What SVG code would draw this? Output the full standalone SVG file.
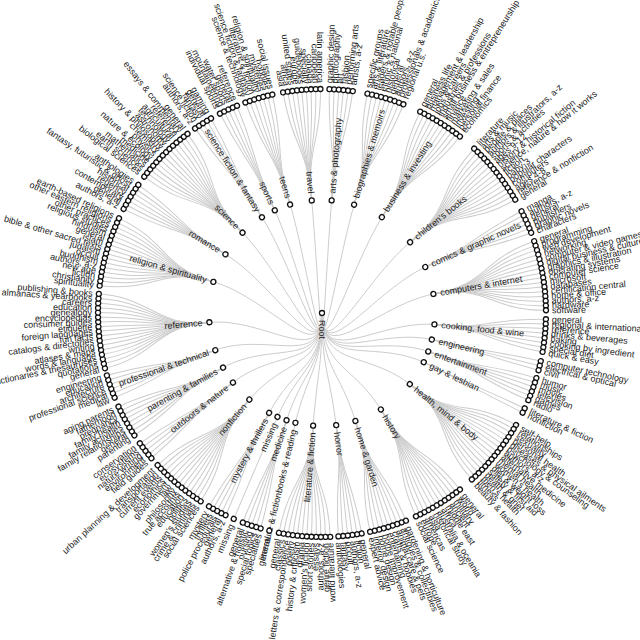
<svg xmlns="http://www.w3.org/2000/svg" xmlns:xlink="http://www.w3.org/1999/xlink" width="640" height="640" viewBox="0 0 640 640">
<style>
text{font-family:"Liberation Sans",Arial,sans-serif;font-size:9px;fill:#222;stroke:none;dominant-baseline:central}
.f{text-anchor:end}
circle{fill:#fff;stroke:#111;stroke-width:1.3}
</style>
<defs>
<path id="q0" d="M113,0C168.5,0 168.5,0 224,0"/>
<path id="p1" d="M113,0C168.5,0 168.49,1.76 223.99,2.35"/><path id="n1" d="M113,0C168.5,0 168.49,-1.76 223.99,-2.35"/>
<path id="p2" d="M113,0C168.5,0 168.46,3.53 223.95,4.69"/><path id="n2" d="M113,0C168.5,0 168.46,-3.53 223.95,-4.69"/>
<path id="p3" d="M113,0C168.5,0 168.42,5.29 223.89,7.04"/><path id="n3" d="M113,0C168.5,0 168.42,-5.29 223.89,-7.04"/>
<path id="p4" d="M113,0C168.5,0 168.35,7.06 223.8,9.38"/><path id="n4" d="M113,0C168.5,0 168.35,-7.06 223.8,-9.38"/>
<path id="p5" d="M113,0C168.5,0 168.27,8.82 223.69,11.72"/><path id="n5" d="M113,0C168.5,0 168.27,-8.82 223.69,-11.72"/>
<path id="p6" d="M113,0C168.5,0 168.17,10.58 223.56,14.07"/><path id="n6" d="M113,0C168.5,0 168.17,-10.58 223.56,-14.07"/>
<path id="p7" d="M113,0C168.5,0 168.05,12.34 223.4,16.41"/><path id="n7" d="M113,0C168.5,0 168.05,-12.34 223.4,-16.41"/>
<path id="p8" d="M113,0C168.5,0 167.91,14.1 223.21,18.74"/><path id="n8" d="M113,0C168.5,0 167.91,-14.1 223.21,-18.74"/>
<path id="p9" d="M113,0C168.5,0 167.75,15.86 223.01,21.08"/><path id="n9" d="M113,0C168.5,0 167.75,-15.86 223.01,-21.08"/>
<path id="p10" d="M113,0C168.5,0 167.58,17.61 222.77,23.41"/><path id="n10" d="M113,0C168.5,0 167.58,-17.61 222.77,-23.41"/>
<path id="p11" d="M113,0C168.5,0 167.38,19.37 222.52,25.75"/><path id="n11" d="M113,0C168.5,0 167.38,-19.37 222.52,-25.75"/>
<path id="p12" d="M113,0C168.5,0 167.17,21.12 222.23,28.07"/><path id="n12" d="M113,0C168.5,0 167.17,-21.12 222.23,-28.07"/>
<path id="p13" d="M113,0C168.5,0 166.94,22.87 221.93,30.4"/><path id="n13" d="M113,0C168.5,0 166.94,-22.87 221.93,-30.4"/>
<path id="p14" d="M113,0C168.5,0 166.69,24.61 221.6,32.72"/><path id="n14" d="M113,0C168.5,0 166.69,-24.61 221.6,-32.72"/>
<path id="p15" d="M113,0C168.5,0 166.43,26.36 221.24,35.04"/><path id="n15" d="M113,0C168.5,0 166.43,-26.36 221.24,-35.04"/>
<path id="p16" d="M113,0C168.5,0 166.14,28.1 220.86,37.36"/><path id="n16" d="M113,0C168.5,0 166.14,-28.1 220.86,-37.36"/>
</defs>
<rect width="640" height="640" fill="#fff"/>
<g transform="translate(322,313)">
<g id="connectors" fill="none" stroke="#ccc" stroke-width="1">
<path d="M0,0C0,56.5 -5.15,-56.35 -10.3,-112.7"/>
<path d="M0,0C0,56.5 4.85,-56.35 9.7,-112.7"/>
<path d="M0,0C0,56.5 16.15,-54.35 32.3,-108.7"/>
<path d="M0,0C0,56.5 30.15,-48.15 60.3,-96.3"/>
<path d="M0,0C0,56.5 44.65,-35.85 89.3,-71.7"/>
<path d="M0,0C0,56.5 52.5,-23.35 105,-46.7"/>
<path d="M0,0C0,56.5 56.65,-9.65 113.3,-19.3"/>
<path d="M0,0C0,56.5 57.35,5.85 114.7,11.7"/>
<path d="M0,0C0,56.5 56,13.5 112,27"/>
<path d="M0,0C0,56.5 54.35,19.65 108.7,39.3"/>
<path d="M0,0C0,56.5 52,25.15 104,50.3"/>
<path d="M0,0C0,56.5 44.85,36.35 89.7,72.7"/>
<path d="M0,0C0,56.5 30.15,49.35 60.3,98.7"/>
<path d="M0,0C0,56.5 17,54.85 34,109.7"/>
<path d="M0,0C0,56.5 7.15,56.85 14.3,113.7"/>
<path d="M0,0C0,56.5 -4.5,57 -9,114"/>
<path d="M0,0C0,56.5 -13.5,55.65 -27,111.3"/>
<path d="M0,0C0,56.5 -18,54.35 -36,108.7"/>
<path d="M0,0C0,56.5 -22.5,52.5 -45,105"/>
<path d="M0,0C0,56.5 -26.65,50.35 -53.3,100.7"/>
<path d="M0,0C0,56.5 -36.5,43.5 -73,87"/>
<path d="M0,0C0,56.5 -44.65,34.85 -89.3,69.7"/>
<path d="M0,0C0,56.5 -49.5,27.35 -99,54.7"/>
<path d="M0,0C0,56.5 -53.15,18.5 -106.3,37"/>
<path d="M0,0C0,56.5 -56.15,4.65 -112.3,9.3"/>
<path d="M0,0C0,56.5 -54,-15.5 -108,-31"/>
<path d="M0,0C0,56.5 -48,-29.15 -96,-58.3"/>
<path d="M0,0C0,56.5 -39.5,-39.85 -79,-79.7"/>
<path d="M0,0C0,56.5 -29.85,-47.65 -59.7,-95.3"/>
<path d="M0,0C0,56.5 -23.5,-51.15 -47,-102.3"/>
<path d="M0,0C0,56.5 -15.85,-54 -31.7,-108"/>
<g transform="rotate(-95.2)"><use href="#n8"/><use href="#n6"/><use href="#n4"/><use href="#n2"/><use href="#q0"/><use href="#p2"/><use href="#p4"/><use href="#p6"/><use href="#p8"/></g>
<g transform="rotate(-85.1)"><use href="#n5"/><use href="#n3"/><use href="#n1"/><use href="#p1"/><use href="#p3"/><use href="#p5"/></g>
<g transform="rotate(-73.5)"><use href="#n8"/><use href="#n6"/><use href="#n4"/><use href="#n2"/><use href="#q0"/><use href="#p2"/><use href="#p4"/><use href="#p6"/><use href="#p8"/></g>
<g transform="rotate(-58)"><use href="#n10"/><use href="#n8"/><use href="#n6"/><use href="#n4"/><use href="#n2"/><use href="#q0"/><use href="#p2"/><use href="#p4"/><use href="#p6"/><use href="#p8"/><use href="#p10"/></g>
<g transform="rotate(-38.8)"><use href="#n14"/><use href="#n12"/><use href="#n10"/><use href="#n8"/><use href="#n6"/><use href="#n4"/><use href="#n2"/><use href="#q0"/><use href="#p2"/><use href="#p4"/><use href="#p6"/><use href="#p8"/><use href="#p10"/><use href="#p12"/><use href="#p14"/></g>
<g transform="rotate(-24)"><use href="#n5"/><use href="#n3"/><use href="#n1"/><use href="#p1"/><use href="#p3"/><use href="#p5"/></g>
<g transform="rotate(-9.7)"><use href="#n15"/><use href="#n13"/><use href="#n11"/><use href="#n9"/><use href="#n7"/><use href="#n5"/><use href="#n3"/><use href="#n1"/><use href="#p1"/><use href="#p3"/><use href="#p5"/><use href="#p7"/><use href="#p9"/><use href="#p11"/><use href="#p13"/><use href="#p15"/></g>
<g transform="rotate(5.8)"><use href="#n7"/><use href="#n5"/><use href="#n3"/><use href="#n1"/><use href="#p1"/><use href="#p3"/><use href="#p5"/><use href="#p7"/></g>
<g transform="rotate(13.6)"><use href="#n2"/><use href="#q0"/><use href="#p2"/></g>
<g transform="rotate(19.9)"><use href="#n5"/><use href="#n3"/><use href="#n1"/><use href="#p1"/><use href="#p3"/><use href="#p5"/></g>
<g transform="rotate(25.8)"><use href="#n1"/><use href="#p1"/></g>
<g transform="rotate(39)"><use href="#n15"/><use href="#n13"/><use href="#n11"/><use href="#n9"/><use href="#n7"/><use href="#n5"/><use href="#n3"/><use href="#n1"/><use href="#p1"/><use href="#p3"/><use href="#p5"/><use href="#p7"/><use href="#p9"/><use href="#p11"/><use href="#p13"/><use href="#p15"/></g>
<g transform="rotate(58.6)"><use href="#n11"/><use href="#n9"/><use href="#n7"/><use href="#n5"/><use href="#n3"/><use href="#n1"/><use href="#p1"/><use href="#p3"/><use href="#p5"/><use href="#p7"/><use href="#p9"/><use href="#p11"/></g>
<g transform="rotate(72.8)"><use href="#n8"/><use href="#n6"/><use href="#n4"/><use href="#n2"/><use href="#q0"/><use href="#p2"/><use href="#p4"/><use href="#p6"/><use href="#p8"/></g>
<g transform="rotate(82.8)"><use href="#n5"/><use href="#n3"/><use href="#n1"/><use href="#p1"/><use href="#p3"/><use href="#p5"/></g>
<g transform="rotate(94.5)"><use href="#n11"/><use href="#n9"/><use href="#n7"/><use href="#n5"/><use href="#n3"/><use href="#n1"/><use href="#p1"/><use href="#p3"/><use href="#p5"/><use href="#p7"/><use href="#p9"/><use href="#p11"/></g>
<g transform="rotate(103.6)"><use href="#q0"/></g>
<g transform="rotate(108.3)"><use href="#n4"/><use href="#n2"/><use href="#q0"/><use href="#p2"/><use href="#p4"/></g>
<g transform="rotate(113.2)"><use href="#q0"/></g>
<g transform="rotate(117.9)"><use href="#n4"/><use href="#n2"/><use href="#q0"/><use href="#p2"/><use href="#p4"/></g>
<g transform="rotate(130)"><use href="#n12"/><use href="#n10"/><use href="#n8"/><use href="#n6"/><use href="#n4"/><use href="#n2"/><use href="#q0"/><use href="#p2"/><use href="#p4"/><use href="#p6"/><use href="#p8"/><use href="#p10"/><use href="#p12"/></g>
<g transform="rotate(142)"><use href="#n4"/><use href="#n2"/><use href="#q0"/><use href="#p2"/><use href="#p4"/></g>
<g transform="rotate(151.1)"><use href="#n7"/><use href="#n5"/><use href="#n3"/><use href="#n1"/><use href="#p1"/><use href="#p3"/><use href="#p5"/><use href="#p7"/></g>
<g transform="rotate(160.8)"><use href="#n5"/><use href="#n3"/><use href="#n1"/><use href="#p1"/><use href="#p3"/><use href="#p5"/></g>
<g transform="rotate(175.3)"><use href="#n16"/><use href="#n14"/><use href="#n12"/><use href="#n10"/><use href="#n8"/><use href="#n6"/><use href="#n4"/><use href="#n2"/><use href="#q0"/><use href="#p2"/><use href="#p4"/><use href="#p6"/><use href="#p8"/><use href="#p10"/><use href="#p12"/><use href="#p14"/><use href="#p16"/></g>
<g transform="rotate(196)"><use href="#n15"/><use href="#n13"/><use href="#n11"/><use href="#n9"/><use href="#n7"/><use href="#n5"/><use href="#n3"/><use href="#n1"/><use href="#p1"/><use href="#p3"/><use href="#p5"/><use href="#p7"/><use href="#p9"/><use href="#p11"/><use href="#p13"/><use href="#p15"/></g>
<g transform="rotate(211.3)"><use href="#n6"/><use href="#n4"/><use href="#n2"/><use href="#q0"/><use href="#p2"/><use href="#p4"/><use href="#p6"/></g>
<g transform="rotate(225.3)"><use href="#n13"/><use href="#n11"/><use href="#n9"/><use href="#n7"/><use href="#n5"/><use href="#n3"/><use href="#n1"/><use href="#p1"/><use href="#p3"/><use href="#p5"/><use href="#p7"/><use href="#p9"/><use href="#p11"/><use href="#p13"/></g>
<g transform="rotate(237.9)"><use href="#n4"/><use href="#n2"/><use href="#q0"/><use href="#p2"/><use href="#p4"/></g>
<g transform="rotate(245.3)"><use href="#n4"/><use href="#n2"/><use href="#q0"/><use href="#p2"/><use href="#p4"/></g>
<g transform="rotate(253.6)"><use href="#n6"/><use href="#n4"/><use href="#n2"/><use href="#q0"/><use href="#p2"/><use href="#p4"/><use href="#p6"/></g>
</g>
<g id="nodes">
<g id="root"><circle r="2.5"/><text x="7" transform="rotate(90)">Root</text></g>

<g id="travel" transform="rotate(-95.2)"><circle cx="113" r="2.5"/><text class="f" x="-120" transform="rotate(180)">travel</text>
<g transform="rotate(-4.8)"><circle cx="224" r="2.5"/><text class="f" x="-230" transform="rotate(180)">asia</text></g>
<g transform="rotate(-3.6)"><circle cx="224" r="2.5"/><text class="f" x="-230" transform="rotate(180)">africa</text></g>
<g transform="rotate(-2.4)"><circle cx="224" r="2.5"/><text class="f" x="-230" transform="rotate(180)">united states</text></g>
<g transform="rotate(-1.2)"><circle cx="224" r="2.5"/><text class="f" x="-230" transform="rotate(180)">europe</text></g>
<g><circle cx="224" r="2.5"/><text class="f" x="-230" transform="rotate(180)">guidebooks</text></g>
<g transform="rotate(1.2)"><circle cx="224" r="2.5"/><text class="f" x="-230" transform="rotate(180)">specialty</text></g>
<g transform="rotate(2.4)"><circle cx="224" r="2.5"/><text class="f" x="-230" transform="rotate(180)">canada</text></g>
<g transform="rotate(3.6)"><circle cx="224" r="2.5"/><text class="f" x="-230" transform="rotate(180)">caribbean</text></g>
<g transform="rotate(4.8)"><circle cx="224" r="2.5"/><text class="f" x="-230" transform="rotate(180)">latin america</text></g>
</g>

<g id="arts" transform="rotate(-85.1)"><circle cx="113" r="2.5"/><text x="120">arts &amp; photography</text>
<g transform="rotate(-3)"><circle cx="224" r="2.5"/><text x="230">graphic design</text></g>
<g transform="rotate(-1.8)"><circle cx="224" r="2.5"/><text x="230">photography</text></g>
<g transform="rotate(-0.6)"><circle cx="224" r="2.5"/><text x="230">art</text></g>
<g transform="rotate(0.6)"><circle cx="224" r="2.5"/><text x="230">fashion</text></g>
<g transform="rotate(1.8)"><circle cx="224" r="2.5"/><text x="230">performing arts</text></g>
<g transform="rotate(3)"><circle cx="224" r="2.5"/><text x="230">artists, a-z</text></g>
</g>

<g id="biographies" transform="rotate(-73.5)"><circle cx="113" r="2.5"/><text x="120">biographies &amp; memoirs</text>
<g transform="rotate(-4.8)"><circle cx="224" r="2.5"/><text x="230">specific groups</text></g>
<g transform="rotate(-3.6)"><circle cx="224" r="2.5"/><text x="230">arts &amp; literature</text></g>
<g transform="rotate(-2.4)"><circle cx="224" r="2.5"/><text x="230">leaders &amp; notable people</text></g>
<g transform="rotate(-1.2)"><circle cx="224" r="2.5"/><text x="230">ethnic &amp; national</text></g>
<g><circle cx="224" r="2.5"/><text x="230">historical</text></g>
<g transform="rotate(1.2)"><circle cx="224" r="2.5"/><text x="230">general</text></g>
<g transform="rotate(2.4)"><circle cx="224" r="2.5"/><text x="230">authors, a-z</text></g>
<g transform="rotate(3.6)"><circle cx="224" r="2.5"/><text x="230">professionals &amp; academics</text></g>
<g transform="rotate(4.8)"><circle cx="224" r="2.5"/><text x="230">regional u.s.</text></g>
</g>

<g id="business" transform="rotate(-58)"><circle cx="113" r="2.5"/><text x="120">business &amp; investing</text>
<g transform="rotate(-6)"><circle cx="224" r="2.5"/><text x="230">general</text></g>
<g transform="rotate(-4.8)"><circle cx="224" r="2.5"/><text x="230">business life</text></g>
<g transform="rotate(-3.6)"><circle cx="224" r="2.5"/><text x="230">management &amp; leadership</text></g>
<g transform="rotate(-2.4)"><circle cx="224" r="2.5"/><text x="230">jobs &amp; careers</text></g>
<g transform="rotate(-1.2)"><circle cx="224" r="2.5"/><text x="230">industries &amp; professions</text></g>
<g><circle cx="224" r="2.5"/><text x="230">small business &amp; entrepreneurship</text></g>
<g transform="rotate(1.2)"><circle cx="224" r="2.5"/><text x="230">finance</text></g>
<g transform="rotate(2.4)"><circle cx="224" r="2.5"/><text x="230">marketing &amp; sales</text></g>
<g transform="rotate(3.6)"><circle cx="224" r="2.5"/><text x="230">investing</text></g>
<g transform="rotate(4.8)"><circle cx="224" r="2.5"/><text x="230">personal finance</text></g>
<g transform="rotate(6)"><circle cx="224" r="2.5"/><text x="230">economics</text></g>
</g>

<g id="childrens" transform="rotate(-38.8)"><circle cx="113" r="2.5"/><text x="120">children's books</text>
<g transform="rotate(-8.4)"><circle cx="224" r="2.5"/><text x="230">literature</text></g>
<g transform="rotate(-7.2)"><circle cx="224" r="2.5"/><text x="230">arts &amp; music</text></g>
<g transform="rotate(-6)"><circle cx="224" r="2.5"/><text x="230">people &amp; places</text></g>
<g transform="rotate(-4.8)"><circle cx="224" r="2.5"/><text x="230">authors &amp; illustrators, a-z</text></g>
<g transform="rotate(-3.6)"><circle cx="224" r="2.5"/><text x="230">sports &amp; activities</text></g>
<g transform="rotate(-2.4)"><circle cx="224" r="2.5"/><text x="230">ages 9-12</text></g>
<g transform="rotate(-1.2)"><circle cx="224" r="2.5"/><text x="230">history &amp; historical fiction</text></g>
<g><circle cx="224" r="2.5"/><text x="230">science, nature &amp; how it works</text></g>
<g transform="rotate(1.2)"><circle cx="224" r="2.5"/><text x="230">fiction</text></g>
<g transform="rotate(2.4)"><circle cx="224" r="2.5"/><text x="230">baby-3</text></g>
<g transform="rotate(3.6)"><circle cx="224" r="2.5"/><text x="230">popular characters</text></g>
<g transform="rotate(4.8)"><circle cx="224" r="2.5"/><text x="230">computers</text></g>
<g transform="rotate(6)"><circle cx="224" r="2.5"/><text x="230">ages 4-8</text></g>
<g transform="rotate(7.2)"><circle cx="224" r="2.5"/><text x="230">reference &amp; nonfiction</text></g>
<g transform="rotate(8.4)"><circle cx="224" r="2.5"/><text x="230">general</text></g>
</g>

<g id="comics" transform="rotate(-24)"><circle cx="113" r="2.5"/><text x="120">comics &amp; graphic novels</text>
<g transform="rotate(-3)"><circle cx="224" r="2.5"/><text x="230">manga</text></g>
<g transform="rotate(-1.8)"><circle cx="224" r="2.5"/><text x="230">authors, a-z</text></g>
<g transform="rotate(-0.6)"><circle cx="224" r="2.5"/><text x="230">general</text></g>
<g transform="rotate(0.6)"><circle cx="224" r="2.5"/><text x="230">publishers</text></g>
<g transform="rotate(1.8)"><circle cx="224" r="2.5"/><text x="230">graphic novels</text></g>
<g transform="rotate(3)"><circle cx="224" r="2.5"/><text x="230">characters</text></g>
</g>

<g id="computers" transform="rotate(-9.7)"><circle cx="113" r="2.5"/><text x="120">computers &amp; internet</text>
<g transform="rotate(-9)"><circle cx="224" r="2.5"/><text x="230">general</text></g>
<g transform="rotate(-7.8)"><circle cx="224" r="2.5"/><text x="230">programming</text></g>
<g transform="rotate(-6.6)"><circle cx="224" r="2.5"/><text x="230">web development</text></g>
<g transform="rotate(-5.4)"><circle cx="224" r="2.5"/><text x="230">networking</text></g>
<g transform="rotate(-4.2)"><circle cx="224" r="2.5"/><text x="230">computer &amp; video games</text></g>
<g transform="rotate(-3)"><circle cx="224" r="2.5"/><text x="230">digital business &amp; culture</text></g>
<g transform="rotate(-1.8)"><circle cx="224" r="2.5"/><text x="230">graphics &amp; illustration</text></g>
<g transform="rotate(-0.6)"><circle cx="224" r="2.5"/><text x="230">operating systems</text></g>
<g transform="rotate(0.6)"><circle cx="224" r="2.5"/><text x="230">computer science</text></g>
<g transform="rotate(1.8)"><circle cx="224" r="2.5"/><text x="230">microsoft</text></g>
<g transform="rotate(3)"><circle cx="224" r="2.5"/><text x="230">databases</text></g>
<g transform="rotate(4.2)"><circle cx="224" r="2.5"/><text x="230">certification central</text></g>
<g transform="rotate(5.4)"><circle cx="224" r="2.5"/><text x="230">home &amp; office</text></g>
<g transform="rotate(6.6)"><circle cx="224" r="2.5"/><text x="230">authors, a-z</text></g>
<g transform="rotate(7.8)"><circle cx="224" r="2.5"/><text x="230">hardware</text></g>
<g transform="rotate(9)"><circle cx="224" r="2.5"/><text x="230">software</text></g>
</g>

<g id="cooking" transform="rotate(5.8)"><circle cx="113" r="2.5"/><text x="120">cooking, food &amp; wine</text>
<g transform="rotate(-4.2)"><circle cx="224" r="2.5"/><text x="230">general</text></g>
<g transform="rotate(-3)"><circle cx="224" r="2.5"/><text x="230">regional &amp; international</text></g>
<g transform="rotate(-1.8)"><circle cx="224" r="2.5"/><text x="230">reference</text></g>
<g transform="rotate(-0.6)"><circle cx="224" r="2.5"/><text x="230">drinks &amp; beverages</text></g>
<g transform="rotate(0.6)"><circle cx="224" r="2.5"/><text x="230">baking</text></g>
<g transform="rotate(1.8)"><circle cx="224" r="2.5"/><text x="230">cooking by ingredient</text></g>
<g transform="rotate(3)"><circle cx="224" r="2.5"/><text x="230">special diet</text></g>
<g transform="rotate(4.2)"><circle cx="224" r="2.5"/><text x="230">quick &amp; easy</text></g>
</g>

<g id="engineering" transform="rotate(13.6)"><circle cx="113" r="2.5"/><text x="120">engineering</text>
<g transform="rotate(-1.2)"><circle cx="224" r="2.5"/><text x="230">computer technology</text></g>
<g><circle cx="224" r="2.5"/><text x="230">electrical &amp; optical</text></g>
<g transform="rotate(1.2)"><circle cx="224" r="2.5"/><text x="230">civil</text></g>
</g>

<g id="entertainment" transform="rotate(19.9)"><circle cx="113" r="2.5"/><text x="120">entertainment</text>
<g transform="rotate(-3)"><circle cx="224" r="2.5"/><text x="230">humor</text></g>
<g transform="rotate(-1.8)"><circle cx="224" r="2.5"/><text x="230">music</text></g>
<g transform="rotate(-0.6)"><circle cx="224" r="2.5"/><text x="230">movies</text></g>
<g transform="rotate(0.6)"><circle cx="224" r="2.5"/><text x="230">television</text></g>
<g transform="rotate(1.8)"><circle cx="224" r="2.5"/><text x="230">games</text></g>
<g transform="rotate(3)"><circle cx="224" r="2.5"/><text x="230">radio</text></g>
</g>

<g id="gay" transform="rotate(25.8)"><circle cx="113" r="2.5"/><text x="120">gay &amp; lesbian</text>
<g transform="rotate(-0.6)"><circle cx="224" r="2.5"/><text x="230">literature &amp; fiction</text></g>
<g transform="rotate(0.6)"><circle cx="224" r="2.5"/><text x="230">nonfiction</text></g>
</g>

<g id="health" transform="rotate(39)"><circle cx="113" r="2.5"/><text x="120">health, mind &amp; body</text>
<g transform="rotate(-9)"><circle cx="224" r="2.5"/><text x="230">self-help</text></g>
<g transform="rotate(-7.8)"><circle cx="224" r="2.5"/><text x="230">relationships</text></g>
<g transform="rotate(-6.6)"><circle cx="224" r="2.5"/><text x="230">sexuality</text></g>
<g transform="rotate(-5.4)"><circle cx="224" r="2.5"/><text x="230">personal health</text></g>
<g transform="rotate(-4.2)"><circle cx="224" r="2.5"/><text x="230">diseases &amp; physical ailments</text></g>
<g transform="rotate(-3)"><circle cx="224" r="2.5"/><text x="230">psychology &amp; counseling</text></g>
<g transform="rotate(-1.8)"><circle cx="224" r="2.5"/><text x="230">authors, a-z</text></g>
<g transform="rotate(-0.6)"><circle cx="224" r="2.5"/><text x="230">alternative medicine</text></g>
<g transform="rotate(0.6)"><circle cx="224" r="2.5"/><text x="230">mental health</text></g>
<g transform="rotate(1.8)"><circle cx="224" r="2.5"/><text x="230">women's health</text></g>
<g transform="rotate(3)"><circle cx="224" r="2.5"/><text x="230">diet &amp; weight loss</text></g>
<g transform="rotate(4.2)"><circle cx="224" r="2.5"/><text x="230">safety &amp; first aid</text></g>
<g transform="rotate(5.4)"><circle cx="224" r="2.5"/><text x="230">death &amp; grief</text></g>
<g transform="rotate(6.6)"><circle cx="224" r="2.5"/><text x="230">men's health</text></g>
<g transform="rotate(7.8)"><circle cx="224" r="2.5"/><text x="230">fitness</text></g>
<g transform="rotate(9)"><circle cx="224" r="2.5"/><text x="230">beauty &amp; fashion</text></g>
</g>

<g id="history" transform="rotate(58.6)"><circle cx="113" r="2.5"/><text x="120">history</text>
<g transform="rotate(-6.6)"><circle cx="224" r="2.5"/><text x="230">general</text></g>
<g transform="rotate(-5.4)"><circle cx="224" r="2.5"/><text x="230">world</text></g>
<g transform="rotate(-4.2)"><circle cx="224" r="2.5"/><text x="230">military</text></g>
<g transform="rotate(-3)"><circle cx="224" r="2.5"/><text x="230">ancient</text></g>
<g transform="rotate(-1.8)"><circle cx="224" r="2.5"/><text x="230">middle east</text></g>
<g transform="rotate(-0.6)"><circle cx="224" r="2.5"/><text x="230">africa</text></g>
<g transform="rotate(0.6)"><circle cx="224" r="2.5"/><text x="230">australia &amp; oceania</text></g>
<g transform="rotate(1.8)"><circle cx="224" r="2.5"/><text x="230">historical study</text></g>
<g transform="rotate(3)"><circle cx="224" r="2.5"/><text x="230">asia</text></g>
<g transform="rotate(4.2)"><circle cx="224" r="2.5"/><text x="230">americas</text></g>
<g transform="rotate(5.4)"><circle cx="224" r="2.5"/><text x="230">europe</text></g>
<g transform="rotate(6.6)"><circle cx="224" r="2.5"/><text x="230">social science</text></g>
</g>

<g id="home" transform="rotate(72.8)"><circle cx="113" r="2.5"/><text x="120">home &amp; garden</text>
<g transform="rotate(-4.8)"><circle cx="224" r="2.5"/><text x="230">gardening &amp; horticulture</text></g>
<g transform="rotate(-3.6)"><circle cx="224" r="2.5"/><text x="230">antiques &amp; collectibles</text></g>
<g transform="rotate(-2.4)"><circle cx="224" r="2.5"/><text x="230">animal care &amp; pets</text></g>
<g transform="rotate(-1.2)"><circle cx="224" r="2.5"/><text x="230">crafts &amp; hobbies</text></g>
<g><circle cx="224" r="2.5"/><text x="230">entertaining</text></g>
<g transform="rotate(1.2)"><circle cx="224" r="2.5"/><text x="230">home improvement</text></g>
<g transform="rotate(2.4)"><circle cx="224" r="2.5"/><text x="230">home design</text></g>
<g transform="rotate(3.6)"><circle cx="224" r="2.5"/><text x="230">interior design</text></g>
<g transform="rotate(4.8)"><circle cx="224" r="2.5"/><text x="230">expert advice</text></g>
</g>

<g id="horror" transform="rotate(82.8)"><circle cx="113" r="2.5"/><text x="120">horror</text>
<g transform="rotate(-3)"><circle cx="224" r="2.5"/><text x="230">general</text></g>
<g transform="rotate(-1.8)"><circle cx="224" r="2.5"/><text x="230">fiction</text></g>
<g transform="rotate(-0.6)"><circle cx="224" r="2.5"/><text x="230">authors, a-z</text></g>
<g transform="rotate(0.6)"><circle cx="224" r="2.5"/><text x="230">occult</text></g>
<g transform="rotate(1.8)"><circle cx="224" r="2.5"/><text x="230">fantasy</text></g>
<g transform="rotate(3)"><circle cx="224" r="2.5"/><text x="230">anthologies</text></g>
</g>

<g id="literature" transform="rotate(94.5)"><circle cx="113" r="2.5"/><text class="f" x="-120" transform="rotate(180)">literature &amp; fiction</text>
<g transform="rotate(-6.6)"><circle cx="224" r="2.5"/><text class="f" x="-230" transform="rotate(180)">world literature</text></g>
<g transform="rotate(-5.4)"><circle cx="224" r="2.5"/><text class="f" x="-230" transform="rotate(180)">genre fiction</text></g>
<g transform="rotate(-4.2)"><circle cx="224" r="2.5"/><text class="f" x="-230" transform="rotate(180)">authors, a-z</text></g>
<g transform="rotate(-3)"><circle cx="224" r="2.5"/><text class="f" x="-230" transform="rotate(180)">essays</text></g>
<g transform="rotate(-1.8)"><circle cx="224" r="2.5"/><text class="f" x="-230" transform="rotate(180)">short stories</text></g>
<g transform="rotate(-0.6)"><circle cx="224" r="2.5"/><text class="f" x="-230" transform="rotate(180)">women's fiction</text></g>
<g transform="rotate(0.6)"><circle cx="224" r="2.5"/><text class="f" x="-230" transform="rotate(180)">drama</text></g>
<g transform="rotate(1.8)"><circle cx="224" r="2.5"/><text class="f" x="-230" transform="rotate(180)">history &amp; criticism</text></g>
<g transform="rotate(3)"><circle cx="224" r="2.5"/><text class="f" x="-230" transform="rotate(180)">poetry</text></g>
<g transform="rotate(4.2)"><circle cx="224" r="2.5"/><text class="f" x="-230" transform="rotate(180)">letters &amp; correspondence</text></g>
<g transform="rotate(5.4)"><circle cx="224" r="2.5"/><text class="f" x="-230" transform="rotate(180)">classics</text></g>
<g transform="rotate(6.6)"><circle cx="224" r="2.5"/><text class="f" x="-230" transform="rotate(180)">general</text></g>
</g>

<g id="books" transform="rotate(103.6)"><circle cx="113" r="2.5"/><text class="f" x="-120" transform="rotate(180)">literature &amp; fictionbooks &amp; reading</text>
<g><circle cx="224" r="2.5"/><text class="f" x="-230" transform="rotate(180)">general</text></g>
</g>

<g id="medicine" transform="rotate(108.3)"><circle cx="113" r="2.5"/><text class="f" x="-120" transform="rotate(180)">medicine</text>
<g transform="rotate(-2.4)"><circle cx="224" r="2.5"/><text class="f" x="-230" transform="rotate(180)">specialties</text></g>
<g transform="rotate(-1.2)"><circle cx="224" r="2.5"/><text class="f" x="-230" transform="rotate(180)">special topics</text></g>
<g><circle cx="224" r="2.5"/><text class="f" x="-230" transform="rotate(180)">nursing</text></g>
<g transform="rotate(1.2)"><circle cx="224" r="2.5"/><text class="f" x="-230" transform="rotate(180)">alternative &amp; holistic</text></g>
<g transform="rotate(2.4)"><circle cx="224" r="2.5"/><text class="f" x="-230" transform="rotate(180)">general</text></g>
</g>

<g id="missing" transform="rotate(113.2)"><circle cx="113" r="2.5"/><text class="f" x="-120" transform="rotate(180)">missing</text>
<g><circle cx="224" r="2.5"/><text class="f" x="-230" transform="rotate(180)">missing</text></g>
</g>

<g id="mystery" transform="rotate(117.9)"><circle cx="113" r="2.5"/><text class="f" x="-120" transform="rotate(180)">mystery &amp; thrillers</text>
<g transform="rotate(-2.4)"><circle cx="224" r="2.5"/><text class="f" x="-230" transform="rotate(180)">authors, a-z</text></g>
<g transform="rotate(-1.2)"><circle cx="224" r="2.5"/><text class="f" x="-230" transform="rotate(180)">general</text></g>
<g><circle cx="224" r="2.5"/><text class="f" x="-230" transform="rotate(180)">police procedurals</text></g>
<g transform="rotate(1.2)"><circle cx="224" r="2.5"/><text class="f" x="-230" transform="rotate(180)">thrillers</text></g>
<g transform="rotate(2.4)"><circle cx="224" r="2.5"/><text class="f" x="-230" transform="rotate(180)">mystery</text></g>
</g>

<g id="nonfiction" transform="rotate(130)"><circle cx="113" r="2.5"/><text class="f" x="-120" transform="rotate(180)">nonfiction</text>
<g transform="rotate(-7.2)"><circle cx="224" r="2.5"/><text class="f" x="-230" transform="rotate(180)">social sciences</text></g>
<g transform="rotate(-6)"><circle cx="224" r="2.5"/><text class="f" x="-230" transform="rotate(180)">crime &amp; criminals</text></g>
<g transform="rotate(-4.8)"><circle cx="224" r="2.5"/><text class="f" x="-230" transform="rotate(180)">women's studies</text></g>
<g transform="rotate(-3.6)"><circle cx="224" r="2.5"/><text class="f" x="-230" transform="rotate(180)">politics</text></g>
<g transform="rotate(-2.4)"><circle cx="224" r="2.5"/><text class="f" x="-230" transform="rotate(180)">education</text></g>
<g transform="rotate(-1.2)"><circle cx="224" r="2.5"/><text class="f" x="-230" transform="rotate(180)">true accounts</text></g>
<g><circle cx="224" r="2.5"/><text class="f" x="-230" transform="rotate(180)">philosophy</text></g>
<g transform="rotate(1.2)"><circle cx="224" r="2.5"/><text class="f" x="-230" transform="rotate(180)">law</text></g>
<g transform="rotate(2.4)"><circle cx="224" r="2.5"/><text class="f" x="-230" transform="rotate(180)">government</text></g>
<g transform="rotate(3.6)"><circle cx="224" r="2.5"/><text class="f" x="-230" transform="rotate(180)">economics</text></g>
<g transform="rotate(4.8)"><circle cx="224" r="2.5"/><text class="f" x="-230" transform="rotate(180)">current events</text></g>
<g transform="rotate(6)"><circle cx="224" r="2.5"/><text class="f" x="-230" transform="rotate(180)">transportation</text></g>
<g transform="rotate(7.2)"><circle cx="224" r="2.5"/><text class="f" x="-230" transform="rotate(180)">urban planning &amp; development</text></g>
</g>

<g id="outdoors" transform="rotate(142)"><circle cx="113" r="2.5"/><text class="f" x="-120" transform="rotate(180)">outdoors &amp; nature</text>
<g transform="rotate(-2.4)"><circle cx="224" r="2.5"/><text class="f" x="-230" transform="rotate(180)">field guides</text></g>
<g transform="rotate(-1.2)"><circle cx="224" r="2.5"/><text class="f" x="-230" transform="rotate(180)">environment</text></g>
<g><circle cx="224" r="2.5"/><text class="f" x="-230" transform="rotate(180)">nature writing</text></g>
<g transform="rotate(1.2)"><circle cx="224" r="2.5"/><text class="f" x="-230" transform="rotate(180)">ecosystems</text></g>
<g transform="rotate(2.4)"><circle cx="224" r="2.5"/><text class="f" x="-230" transform="rotate(180)">conservation</text></g>
</g>

<g id="parenting" transform="rotate(151.1)"><circle cx="113" r="2.5"/><text class="f" x="-120" transform="rotate(180)">parenting &amp; families</text>
<g transform="rotate(-4.2)"><circle cx="224" r="2.5"/><text class="f" x="-230" transform="rotate(180)">parenting</text></g>
<g transform="rotate(-3)"><circle cx="224" r="2.5"/><text class="f" x="-230" transform="rotate(180)">general</text></g>
<g transform="rotate(-1.8)"><circle cx="224" r="2.5"/><text class="f" x="-230" transform="rotate(180)">family relationships</text></g>
<g transform="rotate(-0.6)"><circle cx="224" r="2.5"/><text class="f" x="-230" transform="rotate(180)">family activities</text></g>
<g transform="rotate(0.6)"><circle cx="224" r="2.5"/><text class="f" x="-230" transform="rotate(180)">family health</text></g>
<g transform="rotate(1.8)"><circle cx="224" r="2.5"/><text class="f" x="-230" transform="rotate(180)">pregnancy</text></g>
<g transform="rotate(3)"><circle cx="224" r="2.5"/><text class="f" x="-230" transform="rotate(180)">fatherhood</text></g>
<g transform="rotate(4.2)"><circle cx="224" r="2.5"/><text class="f" x="-230" transform="rotate(180)">aging parents</text></g>
</g>

<g id="professional" transform="rotate(160.8)"><circle cx="113" r="2.5"/><text class="f" x="-120" transform="rotate(180)">professional &amp; technical</text>
<g transform="rotate(-3)"><circle cx="224" r="2.5"/><text class="f" x="-230" transform="rotate(180)">law</text></g>
<g transform="rotate(-1.8)"><circle cx="224" r="2.5"/><text class="f" x="-230" transform="rotate(180)">medical</text></g>
<g transform="rotate(-0.6)"><circle cx="224" r="2.5"/><text class="f" x="-230" transform="rotate(180)">professional science</text></g>
<g transform="rotate(0.6)"><circle cx="224" r="2.5"/><text class="f" x="-230" transform="rotate(180)">architecture</text></g>
<g transform="rotate(1.8)"><circle cx="224" r="2.5"/><text class="f" x="-230" transform="rotate(180)">education</text></g>
<g transform="rotate(3)"><circle cx="224" r="2.5"/><text class="f" x="-230" transform="rotate(180)">engineering</text></g>
</g>

<g id="reference" transform="rotate(175.3)"><circle cx="113" r="2.5"/><text class="f" x="-120" transform="rotate(180)">reference</text>
<g transform="rotate(-9.6)"><circle cx="224" r="2.5"/><text class="f" x="-230" transform="rotate(180)">general</text></g>
<g transform="rotate(-8.4)"><circle cx="224" r="2.5"/><text class="f" x="-230" transform="rotate(180)">quotations</text></g>
<g transform="rotate(-7.2)"><circle cx="224" r="2.5"/><text class="f" x="-230" transform="rotate(180)">dictionaries &amp; thesauruses</text></g>
<g transform="rotate(-6)"><circle cx="224" r="2.5"/><text class="f" x="-230" transform="rotate(180)">words &amp; language</text></g>
<g transform="rotate(-4.8)"><circle cx="224" r="2.5"/><text class="f" x="-230" transform="rotate(180)">atlases &amp; maps</text></g>
<g transform="rotate(-3.6)"><circle cx="224" r="2.5"/><text class="f" x="-230" transform="rotate(180)">writing</text></g>
<g transform="rotate(-2.4)"><circle cx="224" r="2.5"/><text class="f" x="-230" transform="rotate(180)">catalogs &amp; directories</text></g>
<g transform="rotate(-1.2)"><circle cx="224" r="2.5"/><text class="f" x="-230" transform="rotate(180)">fun facts</text></g>
<g><circle cx="224" r="2.5"/><text class="f" x="-230" transform="rotate(180)">foreign languages</text></g>
<g transform="rotate(1.2)"><circle cx="224" r="2.5"/><text class="f" x="-230" transform="rotate(180)">etiquette</text></g>
<g transform="rotate(2.4)"><circle cx="224" r="2.5"/><text class="f" x="-230" transform="rotate(180)">consumer guides</text></g>
<g transform="rotate(3.6)"><circle cx="224" r="2.5"/><text class="f" x="-230" transform="rotate(180)">encyclopedias</text></g>
<g transform="rotate(4.8)"><circle cx="224" r="2.5"/><text class="f" x="-230" transform="rotate(180)">genealogy</text></g>
<g transform="rotate(6)"><circle cx="224" r="2.5"/><text class="f" x="-230" transform="rotate(180)">education</text></g>
<g transform="rotate(7.2)"><circle cx="224" r="2.5"/><text class="f" x="-230" transform="rotate(180)">careers</text></g>
<g transform="rotate(8.4)"><circle cx="224" r="2.5"/><text class="f" x="-230" transform="rotate(180)">almanacs &amp; yearbooks</text></g>
<g transform="rotate(9.6)"><circle cx="224" r="2.5"/><text class="f" x="-230" transform="rotate(180)">publishing &amp; books</text></g>
</g>

<g id="religion" transform="rotate(196)"><circle cx="113" r="2.5"/><text class="f" x="-120" transform="rotate(180)">religion &amp; spirituality</text>
<g transform="rotate(-9)"><circle cx="224" r="2.5"/><text class="f" x="-230" transform="rotate(180)">spirituality</text></g>
<g transform="rotate(-7.8)"><circle cx="224" r="2.5"/><text class="f" x="-230" transform="rotate(180)">christianity</text></g>
<g transform="rotate(-6.6)"><circle cx="224" r="2.5"/><text class="f" x="-230" transform="rotate(180)">fiction</text></g>
<g transform="rotate(-5.4)"><circle cx="224" r="2.5"/><text class="f" x="-230" transform="rotate(180)">new age</text></g>
<g transform="rotate(-4.2)"><circle cx="224" r="2.5"/><text class="f" x="-230" transform="rotate(180)">authors, a-z</text></g>
<g transform="rotate(-3)"><circle cx="224" r="2.5"/><text class="f" x="-230" transform="rotate(180)">buddhism</text></g>
<g transform="rotate(-1.8)"><circle cx="224" r="2.5"/><text class="f" x="-230" transform="rotate(180)">occult</text></g>
<g transform="rotate(-0.6)"><circle cx="224" r="2.5"/><text class="f" x="-230" transform="rotate(180)">judaism</text></g>
<g transform="rotate(0.6)"><circle cx="224" r="2.5"/><text class="f" x="-230" transform="rotate(180)">bible &amp; other sacred texts</text></g>
<g transform="rotate(1.8)"><circle cx="224" r="2.5"/><text class="f" x="-230" transform="rotate(180)">islam</text></g>
<g transform="rotate(3)"><circle cx="224" r="2.5"/><text class="f" x="-230" transform="rotate(180)">general</text></g>
<g transform="rotate(4.2)"><circle cx="224" r="2.5"/><text class="f" x="-230" transform="rotate(180)">hinduism</text></g>
<g transform="rotate(5.4)"><circle cx="224" r="2.5"/><text class="f" x="-230" transform="rotate(180)">religious studies</text></g>
<g transform="rotate(6.6)"><circle cx="224" r="2.5"/><text class="f" x="-230" transform="rotate(180)">other practices</text></g>
<g transform="rotate(7.8)"><circle cx="224" r="2.5"/><text class="f" x="-230" transform="rotate(180)">other eastern religions</text></g>
<g transform="rotate(9)"><circle cx="224" r="2.5"/><text class="f" x="-230" transform="rotate(180)">earth-based religions</text></g>
</g>

<g id="romance" transform="rotate(211.3)"><circle cx="113" r="2.5"/><text class="f" x="-120" transform="rotate(180)">romance</text>
<g transform="rotate(-3.6)"><circle cx="224" r="2.5"/><text class="f" x="-230" transform="rotate(180)">authors, a-z</text></g>
<g transform="rotate(-2.4)"><circle cx="224" r="2.5"/><text class="f" x="-230" transform="rotate(180)">general</text></g>
<g transform="rotate(-1.2)"><circle cx="224" r="2.5"/><text class="f" x="-230" transform="rotate(180)">contemporary</text></g>
<g><circle cx="224" r="2.5"/><text class="f" x="-230" transform="rotate(180)">regency</text></g>
<g transform="rotate(1.2)"><circle cx="224" r="2.5"/><text class="f" x="-230" transform="rotate(180)">historical</text></g>
<g transform="rotate(2.4)"><circle cx="224" r="2.5"/><text class="f" x="-230" transform="rotate(180)">fantasy, futuristic &amp; ghost</text></g>
<g transform="rotate(3.6)"><circle cx="224" r="2.5"/><text class="f" x="-230" transform="rotate(180)">anthologies</text></g>
</g>

<g id="science" transform="rotate(225.3)"><circle cx="113" r="2.5"/><text class="f" x="-120" transform="rotate(180)">science</text>
<g transform="rotate(-7.8)"><circle cx="224" r="2.5"/><text class="f" x="-230" transform="rotate(180)">biological sciences</text></g>
<g transform="rotate(-6.6)"><circle cx="224" r="2.5"/><text class="f" x="-230" transform="rotate(180)">earth sciences</text></g>
<g transform="rotate(-5.4)"><circle cx="224" r="2.5"/><text class="f" x="-230" transform="rotate(180)">mathematics</text></g>
<g transform="rotate(-4.2)"><circle cx="224" r="2.5"/><text class="f" x="-230" transform="rotate(180)">medicine</text></g>
<g transform="rotate(-3)"><circle cx="224" r="2.5"/><text class="f" x="-230" transform="rotate(180)">nature &amp; ecology</text></g>
<g transform="rotate(-1.8)"><circle cx="224" r="2.5"/><text class="f" x="-230" transform="rotate(180)">physics</text></g>
<g transform="rotate(-0.6)"><circle cx="224" r="2.5"/><text class="f" x="-230" transform="rotate(180)">chemistry</text></g>
<g transform="rotate(0.6)"><circle cx="224" r="2.5"/><text class="f" x="-230" transform="rotate(180)">history &amp; philosophy</text></g>
<g transform="rotate(1.8)"><circle cx="224" r="2.5"/><text class="f" x="-230" transform="rotate(180)">astronomy</text></g>
<g transform="rotate(3)"><circle cx="224" r="2.5"/><text class="f" x="-230" transform="rotate(180)">technology</text></g>
<g transform="rotate(4.2)"><circle cx="224" r="2.5"/><text class="f" x="-230" transform="rotate(180)">agricultural</text></g>
<g transform="rotate(5.4)"><circle cx="224" r="2.5"/><text class="f" x="-230" transform="rotate(180)">reference</text></g>
<g transform="rotate(6.6)"><circle cx="224" r="2.5"/><text class="f" x="-230" transform="rotate(180)">essays &amp; commentary</text></g>
<g transform="rotate(7.8)"><circle cx="224" r="2.5"/><text class="f" x="-230" transform="rotate(180)">general</text></g>
</g>

<g id="scifi" transform="rotate(237.9)"><circle cx="113" r="2.5"/><text class="f" x="-120" transform="rotate(180)">science fiction &amp; fantasy</text>
<g transform="rotate(-2.4)"><circle cx="224" r="2.5"/><text class="f" x="-230" transform="rotate(180)">authors, a-z</text></g>
<g transform="rotate(-1.2)"><circle cx="224" r="2.5"/><text class="f" x="-230" transform="rotate(180)">science fiction</text></g>
<g><circle cx="224" r="2.5"/><text class="f" x="-230" transform="rotate(180)">fantasy</text></g>
<g transform="rotate(1.2)"><circle cx="224" r="2.5"/><text class="f" x="-230" transform="rotate(180)">general</text></g>
<g transform="rotate(2.4)"><circle cx="224" r="2.5"/><text class="f" x="-230" transform="rotate(180)">gaming</text></g>
</g>

<g id="sports" transform="rotate(245.3)"><circle cx="113" r="2.5"/><text class="f" x="-120" transform="rotate(180)">sports</text>
<g transform="rotate(-2.4)"><circle cx="224" r="2.5"/><text class="f" x="-230" transform="rotate(180)">individual sports</text></g>
<g transform="rotate(-1.2)"><circle cx="224" r="2.5"/><text class="f" x="-230" transform="rotate(180)">mountaineering</text></g>
<g><circle cx="224" r="2.5"/><text class="f" x="-230" transform="rotate(180)">water sports</text></g>
<g transform="rotate(1.2)"><circle cx="224" r="2.5"/><text class="f" x="-230" transform="rotate(180)">general</text></g>
<g transform="rotate(2.4)"><circle cx="224" r="2.5"/><text class="f" x="-230" transform="rotate(180)">reference</text></g>
</g>

<g id="teens" transform="rotate(253.6)"><circle cx="113" r="2.5"/><text class="f" x="-120" transform="rotate(180)">teens</text>
<g transform="rotate(-3.6)"><circle cx="224" r="2.5"/><text class="f" x="-230" transform="rotate(180)">science &amp; technology</text></g>
<g transform="rotate(-2.4)"><circle cx="224" r="2.5"/><text class="f" x="-230" transform="rotate(180)">science fiction &amp; fantasy</text></g>
<g transform="rotate(-1.2)"><circle cx="224" r="2.5"/><text class="f" x="-230" transform="rotate(180)">literature &amp; fiction</text></g>
<g><circle cx="224" r="2.5"/><text class="f" x="-230" transform="rotate(180)">religion &amp; spirituality</text></g>
<g transform="rotate(1.2)"><circle cx="224" r="2.5"/><text class="f" x="-230" transform="rotate(180)">mysteries</text></g>
<g transform="rotate(2.4)"><circle cx="224" r="2.5"/><text class="f" x="-230" transform="rotate(180)">hobbies</text></g>
<g transform="rotate(3.6)"><circle cx="224" r="2.5"/><text class="f" x="-230" transform="rotate(180)">social issues</text></g>
</g>
</g>
</g>
</svg>
